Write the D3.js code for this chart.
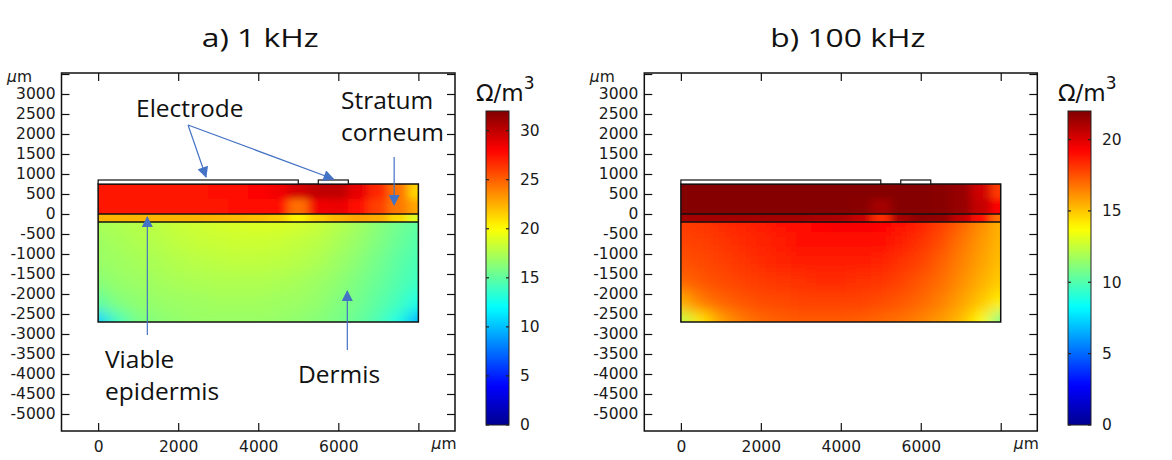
<!DOCTYPE html>
<html><head><meta charset="utf-8">
<script src="https://cdn.jsdelivr.net/npm/d3@7"></script>
<style>body{margin:0;background:#fff;} svg{display:block;}</style>
</head><body>
<svg id="c" width="1172" height="460"></svg>
<script>
// ---------------- data ----------------
const panelTitles = ["a) 1 kHz", "b) 100 kHz"];
const colorMax = [32, 22];
const colorTicks = [[0, 5, 10, 15, 20, 25, 30], [0, 5, 10, 15, 20]];
const xTicks = [0, 2000, 4000, 6000, 8000];
const yTicks = [-5000, -4500, -4000, -3500, -3000, -2500, -2000, -1500, -1000, -500, 0, 500, 1000, 1500, 2000, 2500, 3000, 3500];
const xNodes = [0, 500, 1000, 1500, 2000, 2500, 3000, 3500, 4000, 4500, 5000, 5500, 6000, 6500, 7000, 7500, 8000];
const layerNames = ["stratum corneum", "viable epidermis", "dermis"];
const layerTop = [750, 0, -200];
const layerBottom = [0, -200, -2700];
const scNodesY = [750, 0];
const epNodesY = [-100];
const deNodesY = [-200, -700, -1200, -1700, -2200, -2700];
const electrodeX0 = [0, 5500];
const electrodeX1 = [5000, 6250];
const electrodeY0 = 750, electrodeY1 = 850;

// a) 1 kHz  (Ω/m3)
const sc1kHz = [
  [27.4,27.4,27.4,27.4,27.4,27.4,27.5,27.6,27.8,28.4,29.4,30.0,30.0,28.8,26.8,24.4,21.3],
  [27.3,27.3,27.3,27.3,27.3,27.3,27.4,27.5,27.6,27.6,24.5,28.4,28.6,27.6,26.0,24.2,22.8]
];
const ep1kHz = [
  [22.4,22.4,22.4,22.4,22.4,22.4,22.3,22.2,22.0,21.6,20.3,21.5,22.3,22.8,22.6,21.2,19.0]
];
const de1kHz = [
  [17.3,17.5,17.7,18.0,18.3,18.5,18.7,18.8,18.9,18.9,18.7,18.3,17.7,17.1,16.3,15.6,15.0],
  [17.0,17.2,17.5,17.7,18.0,18.2,18.3,18.4,18.4,18.3,18.1,17.8,17.3,16.7,16.0,15.3,14.6],
  [16.8,17.0,17.2,17.4,17.6,17.8,17.9,18.0,18.0,17.9,17.7,17.4,16.9,16.3,15.6,14.9,14.3],
  [16.3,16.7,16.9,17.1,17.3,17.4,17.5,17.5,17.5,17.4,17.2,16.9,16.5,15.9,15.3,14.6,13.9],
  [15.0,16.1,16.5,16.8,16.9,17.0,17.1,17.1,17.1,17.0,16.9,16.6,16.1,15.6,14.9,14.1,12.8],
  [10.5,14.2,15.8,16.3,16.6,16.8,16.8,16.8,16.8,16.7,16.5,16.2,15.8,15.2,14.4,12.8,9.5]
];
// b) 100 kHz  (Ω/m3)
const sc100kHz = [
  [21.9,21.9,21.9,21.9,21.9,21.9,21.9,21.9,21.9,21.9,21.9,21.9,21.9,21.8,21.5,20.3,18.0],
  [21.9,21.9,21.9,21.9,21.9,21.9,21.9,21.9,21.9,21.8,21.2,21.9,21.9,21.8,21.5,20.5,19.2]
];
const ep100kHz = [
  [21.2,21.2,21.2,21.2,21.2,21.2,21.2,21.1,21.0,20.5,18.3,21.2,21.7,21.6,20.6,19.0,16.8]
];
const de100kHz = [
  [18.0,18.1,18.3,18.5,18.7,18.9,19.1,19.3,19.4,19.4,19.3,19.0,18.6,18.0,17.2,16.3,15.4],
  [17.8,17.9,18.1,18.3,18.5,18.7,18.9,19.0,19.1,19.1,19.0,18.7,18.2,17.6,16.8,16.0,15.3],
  [17.5,17.7,17.9,18.1,18.3,18.5,18.6,18.7,18.7,18.7,18.5,18.2,17.8,17.2,16.5,15.8,15.1],
  [17.0,17.4,17.6,17.8,18.0,18.1,18.2,18.3,18.3,18.2,18.1,17.8,17.4,16.9,16.2,15.5,14.8],
  [15.5,16.6,17.1,17.4,17.6,17.7,17.8,17.8,17.8,17.8,17.6,17.4,17.0,16.5,15.8,15.0,14.0],
  [12.3,14.3,15.8,16.6,17.0,17.2,17.3,17.3,17.3,17.2,17.0,16.8,16.4,15.9,15.2,13.8,10.8]
];

// annotations (left panel only), in data coordinates (µm)
const annoText = ["Electrode", "Stratum", "corneum", "Viable", "epidermis", "Dermis"];
const annoX = [947, 6068, 6068, 172, 172, 4994];
const annoY = [2425, 2625, 1825, -3850, -4650, -4225];
const arrowX0 = [2246, 2246, 7395, 1229, 6225];
const arrowY0 = [2225, 2225, 1425, -3025, -3400];
const arrowX1 = [2695, 5880, 7395, 1229, 6225];
const arrowY1 = [925, 875, 225, -75, -1925];

// ---------------- layout ----------------
const W = 1172, H = 460;
const plotTop = 73, plotBottom = 431;
const frames = [{x0: 61.5, x1: 455, cb: 486, tdx: 2}, {x0: 644.3, x1: 1037.3, cb: 1068, tdx: 7}];
const xDomain = [-915, 8915], yDomain = [-5425, 3525];
const cbTop = 111, cbBottom = 425, cbW = 23;
const tickFont = "'DejaVu Sans', sans-serif";
const annoFont = "'Open Sans', sans-serif";
const jetStops = [0, 0.125, 0.375, 0.625, 0.875, 1];
const jetColors = ["#00008f", "#0000ff", "#00ffff", "#ffff00", "#ff0000", "#800000"];
const arrowColor = "#4472c4";

const svg = d3.select("#c");
const defs = svg.append("defs");
defs.append("marker").attr("id", "arr").attr("viewBox", "0 0 10 10")
  .attr("refX", 9).attr("refY", 5).attr("markerWidth", 12).attr("markerHeight", 11)
  .attr("markerUnits", "userSpaceOnUse").attr("orient", "auto")
  .append("path").attr("d", "M0,0L10,5L0,10z").attr("fill", arrowColor);

const blurs = {sc: "5 3", ep: "5 2", de: "8 7"};
Object.entries(blurs).forEach(([k, s]) => {
  defs.append("filter").attr("id", "blur-" + k).attr("filterUnits", "userSpaceOnUse")
    .attr("x", 0).attr("y", 0).attr("width", W).attr("height", H)
    .append("feGaussianBlur").attr("stdDeviation", s);
});

const panelData = [
  {sc: sc1kHz, ep: ep1kHz, de: de1kHz},
  {sc: sc100kHz, ep: ep100kHz, de: de100kHz}
];
const layerKeys = ["sc", "ep", "de"];
const layerNodes = {sc: scNodesY, ep: epNodesY, de: deNodesY};

function buildCells(nodesY, vals, top, bottom) {
  const pad = 1500, cells = [];
  nodesY.forEach((ny, j) => {
    const yt = j === 0 ? top + pad : (nodesY[j - 1] + ny) / 2;
    const yb = j === nodesY.length - 1 ? bottom - pad : (ny + nodesY[j + 1]) / 2;
    xNodes.forEach((nx, i) => {
      const xl = i === 0 ? -pad : (xNodes[i - 1] + nx) / 2;
      const xr = i === xNodes.length - 1 ? 8000 + pad : (nx + xNodes[i + 1]) / 2;
      cells.push({xl, xr, yt, yb, v: vals[j][i]});
    });
  });
  return cells;
}

frames.forEach((f, p) => {
  const xs = d3.scaleLinear().domain(xDomain).range([f.x0, f.x1]);
  const ys = d3.scaleLinear().domain(yDomain).range([plotBottom, plotTop]);
  const cmax = colorMax[p];
  const color = d3.scaleLinear().domain(jetStops.map(t => t * cmax)).range(jetColors).clamp(true);
  const g = svg.append("g");

  // field
  layerKeys.forEach((k, li) => {
    const cid = `clip-${p}-${k}`;
    defs.append("clipPath").attr("id", cid).append("rect")
      .attr("x", xs(0)).attr("y", ys(layerTop[li]))
      .attr("width", xs(8000) - xs(0)).attr("height", ys(layerBottom[li]) - ys(layerTop[li]));
    const cells = buildCells(layerNodes[k], panelData[p][k], layerTop[li], layerBottom[li]);
    g.append("g").attr("clip-path", `url(#${cid})`)
      .append("g").attr("filter", `url(#blur-${k})`)
      .selectAll("rect").data(cells).join("rect")
      .attr("x", d => xs(d.xl)).attr("y", d => ys(d.yt))
      .attr("width", d => xs(d.xr) - xs(d.xl) + 0.6)
      .attr("height", d => ys(d.yb) - ys(d.yt) + 0.6)
      .attr("fill", d => color(d.v))
      .attr("shape-rendering", "crispEdges");
  });

  // layer outlines
  g.append("rect").attr("x", xs(0)).attr("y", ys(750))
    .attr("width", xs(8000) - xs(0)).attr("height", ys(-2700) - ys(750))
    .attr("fill", "none").attr("stroke", "#111").attr("stroke-width", 1.5);
  [0, -200].forEach(yv => g.append("line").attr("x1", xs(0)).attr("x2", xs(8000))
    .attr("y1", ys(yv)).attr("y2", ys(yv)).attr("stroke", "#111").attr("stroke-width", 1.5));
  // electrodes
  electrodeX0.forEach((x0, i) => g.append("rect")
    .attr("x", xs(x0)).attr("y", ys(electrodeY1))
    .attr("width", xs(electrodeX1[i]) - xs(x0)).attr("height", ys(electrodeY0) - ys(electrodeY1))
    .attr("fill", "#fff").attr("stroke", "#111").attr("stroke-width", 1.2));

  // axes
  const styleAxis = a => {
    a.select(".domain").remove();
    a.attr("font-family", tickFont).attr("font-size", 15.5).attr("color", "#111");
    a.selectAll(".tick line").attr("stroke-width", 1.2);
    a.selectAll(".tick text").attr("fill", "#1a1a1a");
  };
  g.append("g").attr("transform", `translate(0,${plotBottom})`)
    .call(d3.axisBottom(xs).tickValues(xTicks).tickSize(-8).tickPadding(10).tickFormat(d => d === 8000 ? "" : d))
    .call(styleAxis);
  g.append("g").attr("transform", `translate(0,${plotTop})`)
    .call(d3.axisTop(xs).tickValues(xTicks).tickSize(-8).tickFormat(""))
    .call(styleAxis);
  g.append("g").attr("transform", `translate(${f.x0},0)`)
    .call(d3.axisLeft(ys).tickValues(yTicks).tickSize(-8).tickPadding(6).tickFormat(d => d === 3500 ? "" : d))
    .call(styleAxis);
  g.append("g").attr("transform", `translate(${f.x1},0)`)
    .call(d3.axisRight(ys).tickValues(yTicks).tickSize(-8).tickFormat(""))
    .call(styleAxis);
  g.append("rect").attr("x", f.x0).attr("y", plotTop).attr("width", f.x1 - f.x0)
    .attr("height", plotBottom - plotTop).attr("fill", "none").attr("stroke", "#111").attr("stroke-width", 1.5);

  // unit labels µm
  const um = (x, y) => {
    const t = g.append("text").attr("x", x).attr("y", y).attr("text-anchor", "middle")
      .attr("font-family", tickFont).attr("font-size", 15.5).attr("fill", "#1a1a1a");
    t.append("tspan").attr("font-style", "italic").text("μ");
    t.append("tspan").text("m");
  };
  um(f.x0 - 42, 82);
  um(f.x1 - 11, 449);

  // title
  g.append("text").attr("x", (f.x0 + f.x1) / 2 + f.tdx).attr("y", 47)
    .attr("text-anchor", "middle").attr("font-family", annoFont).attr("font-size", 26)
    .attr("fill", "#111").attr("textLength", p === 0 ? 117 : 155).attr("lengthAdjust", "spacingAndGlyphs")
    .text(panelTitles[p]);

  // colorbar
  const gid = "cbgrad" + p;
  const grad = defs.append("linearGradient").attr("id", gid)
    .attr("x1", 0).attr("y1", 1).attr("x2", 0).attr("y2", 0);
  d3.range(0, 1.0001, 0.02).forEach(t => grad.append("stop")
    .attr("offset", t).attr("stop-color", color(t * cmax)));
  const cs = d3.scaleLinear().domain([0, cmax]).range([cbBottom, cbTop]);
  g.append("rect").attr("x", f.cb).attr("y", cbTop).attr("width", cbW)
    .attr("height", cbBottom - cbTop).attr("fill", `url(#${gid})`)
    .attr("stroke", "#222").attr("stroke-width", 1);
  const ct = g.append("g").selectAll("g").data(colorTicks[p]).join("g");
  ct.append("line").attr("x1", f.cb).attr("x2", f.cb + 3).attr("y1", d => cs(d)).attr("y2", d => cs(d))
    .attr("stroke", "#222").attr("stroke-width", 1.2);
  ct.append("line").attr("x1", f.cb + cbW - 3).attr("x2", f.cb + cbW).attr("y1", d => cs(d)).attr("y2", d => cs(d))
    .attr("stroke", "#222").attr("stroke-width", 1.2);
  ct.append("text").attr("x", f.cb + cbW + 11).attr("y", d => cs(d)).attr("dy", "0.35em")
    .attr("font-family", tickFont).attr("font-size", 15.5).attr("fill", "#1a1a1a").text(d => d);
  const ut = g.append("text").attr("x", f.cb - 10).attr("y", 101)
    .attr("font-family", tickFont).attr("font-size", 23).attr("fill", "#111");
  ut.append("tspan").text("Ω/m");
  ut.append("tspan").attr("font-size", 17).attr("dy", -12).text("3");

  // annotations (left panel)
  if (p === 0) {
    const ga = g.append("g");
    ga.selectAll("line").data(arrowX0).join("line")
      .attr("x1", (d, i) => xs(arrowX0[i])).attr("y1", (d, i) => ys(arrowY0[i]))
      .attr("x2", (d, i) => xs(arrowX1[i])).attr("y2", (d, i) => ys(arrowY1[i]))
      .attr("stroke", arrowColor).attr("stroke-width", 1.2).attr("marker-end", "url(#arr)");
    ga.selectAll("text").data(annoText).join("text")
      .attr("x", (d, i) => xs(annoX[i])).attr("y", (d, i) => ys(annoY[i]))
      .attr("font-family", annoFont).attr("font-size", 24.5).attr("fill", "#111")
      .text(d => d);
  }
});
</script>
</body></html>
